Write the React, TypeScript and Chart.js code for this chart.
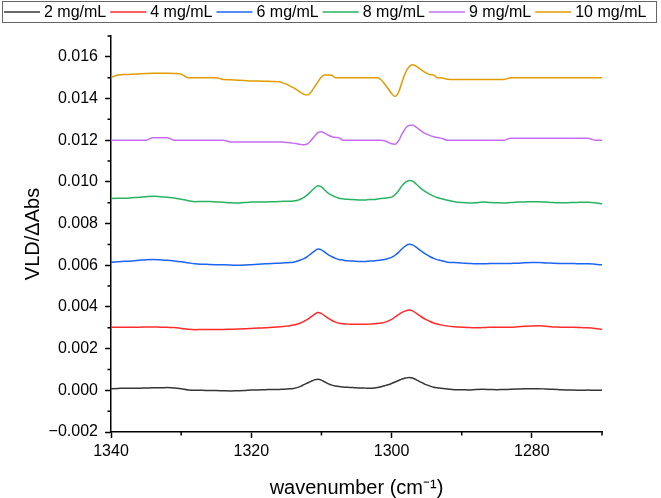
import React, { useEffect, useRef } from 'react';
import { Chart, registerables } from 'chart.js';

Chart.register(...registerables);

// wavenumber (cm-1), 1340 -> 1270 (half steps across the two bands)
const wavenumbers = [
  1340, 1339, 1338, 1337, 1336, 1335, 1334, 1333, 1332, 1331,
  1330, 1329, 1328, 1327, 1326, 1325, 1324, 1323, 1322, 1321,
  1320, 1319, 1318, 1317,
  1316, 1315.5, 1315, 1314.5, 1314, 1313.5, 1313, 1312.5, 1312, 1311.5,
  1311, 1310.5, 1310, 1309.5, 1309, 1308.5, 1308, 1307.5, 1307, 1306.5,
  1306, 1305.5, 1305, 1304.5, 1304, 1303.5, 1303, 1302.5, 1302, 1301.5,
  1301, 1300.5, 1300, 1299.5, 1299, 1298.5, 1298, 1297.5, 1297, 1296.5,
  1296, 1295.5, 1295, 1294.5, 1294, 1293.5, 1293,
  1292, 1291, 1290, 1289, 1288, 1287, 1286, 1285, 1284, 1283,
  1282, 1281, 1280, 1279, 1278, 1277, 1276, 1275, 1274, 1273,
  1272, 1271, 1270,
];

const seriesLabels = ['2 mg/mL', '4 mg/mL', '6 mg/mL', '8 mg/mL', '9 mg/mL', '10 mg/mL'];
const seriesColors = ['#353535', '#ff2b2b', '#1c64f2', '#27b362', '#c36ef2', '#e09c00'];

const vld2 = [
  0.00008, 0.00009, 0.00010, 0.00010, 0.00010, 0.00011, 0.00012, 0.00012, 0.00013, 0.00011,
  0.00007, 0.00002, 0.00000, 0.00000, -0.00001, -0.00001, -0.00002, -0.00003, -0.00002, -0.00001,
  0.00001, 0.00002, 0.00003, 0.00004,
  0.00004, 0.00005, 0.00006, 0.00007, 0.00009, 0.00013, 0.00019, 0.00027, 0.00035, 0.00043,
  0.00050, 0.00053, 0.00049, 0.00040, 0.00031, 0.00025, 0.00021, 0.00018, 0.00016, 0.00015,
  0.00014, 0.00013, 0.00012, 0.00011, 0.00011, 0.00010, 0.00010, 0.00011, 0.00013, 0.00017,
  0.00022, 0.00027, 0.00033, 0.00040, 0.00047, 0.00054, 0.00059, 0.00062, 0.00059, 0.00051,
  0.00042, 0.00034, 0.00026, 0.00020, 0.00015, 0.00012, 0.00010,
  0.00006, 0.00003, 0.00003, 0.00002, 0.00004, 0.00005, 0.00004, 0.00003, 0.00004, 0.00005,
  0.00006, 0.00007, 0.00007, 0.00008, 0.00006, 0.00005, 0.00003, 0.00001, 0.00001, 0.00000,
  0.00001, 0.00000, 0.00000,
];
const vld4 = [
  0.00302, 0.00302, 0.00303, 0.00303, 0.00303, 0.00304, 0.00304, 0.00303, 0.00302, 0.00301,
  0.00297, 0.00293, 0.00291, 0.00292, 0.00292, 0.00292, 0.00292, 0.00293, 0.00294, 0.00295,
  0.00297, 0.00299, 0.00300, 0.00303,
  0.00305, 0.00306, 0.00308, 0.00310, 0.00313, 0.00317, 0.00323, 0.00331, 0.00340, 0.00352,
  0.00364, 0.00373, 0.00368, 0.00357, 0.00345, 0.00335, 0.00327, 0.00322, 0.00319, 0.00318,
  0.00317, 0.00317, 0.00317, 0.00317, 0.00317, 0.00317, 0.00318, 0.00319, 0.00321, 0.00323,
  0.00326, 0.00332, 0.00340, 0.00352, 0.00363, 0.00374, 0.00381, 0.00385, 0.00381, 0.00370,
  0.00358, 0.00347, 0.00338, 0.00330, 0.00323, 0.00318, 0.00314,
  0.00308, 0.00305, 0.00303, 0.00301, 0.00300, 0.00301, 0.00302, 0.00302, 0.00302, 0.00303,
  0.00305, 0.00307, 0.00309, 0.00310, 0.00307, 0.00304, 0.00303, 0.00302, 0.00302, 0.00301,
  0.00300, 0.00297, 0.00292,
];
const vld6 = [
  0.00615, 0.00617, 0.00619, 0.00621, 0.00624, 0.00627, 0.00628, 0.00626, 0.00624, 0.00621,
  0.00617, 0.00612, 0.00607, 0.00605, 0.00604, 0.00603, 0.00602, 0.00601, 0.00600, 0.00601,
  0.00603, 0.00605, 0.00607, 0.00609,
  0.00610, 0.00611, 0.00612, 0.00613, 0.00615, 0.00619, 0.00625, 0.00632, 0.00642, 0.00655,
  0.00668, 0.00678, 0.00674, 0.00662, 0.00650, 0.00641, 0.00633, 0.00628, 0.00625, 0.00622,
  0.00621, 0.00620, 0.00619, 0.00618, 0.00618, 0.00619, 0.00620, 0.00621, 0.00623, 0.00625,
  0.00628, 0.00632, 0.00638, 0.00648, 0.00662, 0.00679, 0.00693, 0.00701, 0.00698, 0.00687,
  0.00674, 0.00662, 0.00651, 0.00641, 0.00633, 0.00627, 0.00623,
  0.00615, 0.00613, 0.00611, 0.00609, 0.00607, 0.00607, 0.00608, 0.00608, 0.00608, 0.00609,
  0.00610, 0.00612, 0.00613, 0.00613, 0.00611, 0.00610, 0.00609, 0.00608, 0.00608, 0.00607,
  0.00607, 0.00605, 0.00602,
];
const vld8 = [
  0.00920, 0.00921, 0.00922, 0.00924, 0.00926, 0.00929, 0.00931, 0.00929, 0.00926, 0.00923,
  0.00917, 0.00910, 0.00905, 0.00906, 0.00906, 0.00904, 0.00902, 0.00900, 0.00899, 0.00901,
  0.00903, 0.00904, 0.00904, 0.00905,
  0.00906, 0.00907, 0.00907, 0.00907, 0.00908, 0.00911, 0.00917, 0.00926, 0.00938, 0.00954,
  0.00970, 0.00981, 0.00976, 0.00960, 0.00945, 0.00935, 0.00928, 0.00922, 0.00919, 0.00917,
  0.00916, 0.00915, 0.00914, 0.00913, 0.00913, 0.00914, 0.00915, 0.00916, 0.00918, 0.00920,
  0.00922, 0.00924, 0.00927, 0.00938, 0.00958, 0.00982, 0.00999, 0.01007, 0.01004, 0.00990,
  0.00974, 0.00961, 0.00950, 0.00940, 0.00932, 0.00925, 0.00920,
  0.00912, 0.00905, 0.00901, 0.00899, 0.00900, 0.00903, 0.00901, 0.00900, 0.00899, 0.00901,
  0.00903, 0.00904, 0.00905, 0.00905, 0.00903, 0.00901, 0.00900, 0.00900, 0.00901, 0.00902,
  0.00902, 0.00900, 0.00894,
];
const vld9 = [
  0.01200, 0.01200, 0.01200, 0.01200, 0.01200, 0.01200, 0.01212, 0.01212, 0.01212, 0.01200,
  0.01200, 0.01200, 0.01200, 0.01200, 0.01200, 0.01200, 0.01200, 0.01192, 0.01192, 0.01192,
  0.01192, 0.01192, 0.01192, 0.01192,
  0.01192, 0.01191, 0.01189, 0.01188, 0.01186, 0.01183, 0.01180, 0.01178, 0.01182, 0.01198,
  0.01218, 0.01236, 0.01241, 0.01233, 0.01224, 0.01217, 0.01213, 0.01212, 0.01201, 0.01200,
  0.01200, 0.01200, 0.01200, 0.01200, 0.01200, 0.01200, 0.01200, 0.01200, 0.01200, 0.01200,
  0.01197, 0.01190, 0.01183, 0.01181, 0.01198, 0.01230, 0.01258, 0.01271, 0.01273, 0.01263,
  0.01250, 0.01238, 0.01229, 0.01222, 0.01217, 0.01213, 0.01210,
  0.01200, 0.01200, 0.01200, 0.01200, 0.01200, 0.01200, 0.01200, 0.01200, 0.01200, 0.01210,
  0.01210, 0.01210, 0.01210, 0.01210, 0.01210, 0.01210, 0.01210, 0.01210, 0.01210, 0.01210,
  0.01210, 0.01200, 0.01200,
];
const vld10 = [
  0.01500, 0.01513, 0.01515, 0.01516, 0.01518, 0.01520, 0.01521, 0.01521, 0.01521, 0.01520,
  0.01517, 0.01500, 0.01500, 0.01500, 0.01500, 0.01500, 0.01491, 0.01490, 0.01488, 0.01486,
  0.01484, 0.01484, 0.01483, 0.01482,
  0.01480, 0.01475, 0.01469, 0.01461, 0.01452, 0.01442, 0.01430, 0.01420, 0.01417, 0.01430,
  0.01455, 0.01480, 0.01503, 0.01513, 0.01513, 0.01512, 0.01500, 0.01500, 0.01500, 0.01500,
  0.01500, 0.01500, 0.01500, 0.01500, 0.01500, 0.01500, 0.01500, 0.01500, 0.01500, 0.01490,
  0.01470, 0.01448, 0.01424, 0.01410, 0.01430, 0.01480, 0.01525, 0.01552, 0.01562, 0.01555,
  0.01543, 0.01532, 0.01522, 0.01514, 0.01513, 0.01500, 0.01500,
  0.01492, 0.01491, 0.01491, 0.01491, 0.01491, 0.01491, 0.01491, 0.01491, 0.01491, 0.01500,
  0.01500, 0.01500, 0.01500, 0.01500, 0.01500, 0.01500, 0.01500, 0.01500, 0.01500, 0.01500,
  0.01500, 0.01500, 0.01500,
];

const seriesValues = [vld2, vld4, vld6, vld8, vld9, vld10];

const xMajorTicks = [1340, 1320, 1300, 1280];
const xMinorTicks = [1330, 1310, 1290, 1270];
const yMajorTicks = [-0.002, 0.0, 0.002, 0.004, 0.006, 0.008, 0.01, 0.012, 0.014, 0.016];
const yMinorTicks = [-0.001, 0.001, 0.003, 0.005, 0.007, 0.009, 0.011, 0.013, 0.015, 0.017];

const FONT = '"Liberation Sans", Arial, Helvetica, sans-serif';

const minorTickPlugin = {
  id: 'minorTicks',
  afterDraw(chart: any) {
    const ctx = chart.ctx;
    const xs = chart.scales.x;
    const ys = chart.scales.y;
    const area = chart.chartArea;
    ctx.save();
    ctx.strokeStyle = '#000';
    ctx.lineWidth = 1.5;
    ctx.beginPath();
    xMinorTicks.forEach((v) => {
      const p = xs.getPixelForValue(v);
      ctx.moveTo(p, area.bottom);
      ctx.lineTo(p, area.bottom + 3.5);
    });
    yMinorTicks.forEach((v) => {
      const p = ys.getPixelForValue(v);
      ctx.moveTo(area.left, p);
      ctx.lineTo(area.left - 3.5, p);
    });
    ctx.stroke();
    ctx.restore();
  },
};

const boxLegendPlugin = {
  id: 'boxLegend',
  afterDraw(chart: any) {
    const ctx = chart.ctx;
    ctx.save();
    ctx.strokeStyle = '#666';
    ctx.lineWidth = 1;
    ctx.strokeRect(2.5, 1.5, 654, 21);
    ctx.font = '16px ' + FONT;
    ctx.textBaseline = 'middle';
    let x = 4;
    chart.data.datasets.forEach((ds: any) => {
      ctx.strokeStyle = ds.borderColor;
      ctx.lineWidth = 1.5;
      ctx.beginPath();
      ctx.moveTo(x, 12);
      ctx.lineTo(x + 36, 12);
      ctx.stroke();
      ctx.fillStyle = '#000';
      ctx.fillText(ds.label, x + 40, 12.5);
      x += 36 + 4 + ctx.measureText(ds.label).width + 4;
    });
    ctx.restore();
  },
};

function formatY(v: number) {
  const s = Math.abs(v).toFixed(3);
  return v < -1e-9 ? '\u2212' + s : s;
}

export default function App() {
  const canvasRef = useRef<HTMLCanvasElement | null>(null);

  useEffect(() => {
    document.body.style.margin = '0';
    const canvas = canvasRef.current;
    if (!canvas) return;
    const datasets = seriesLabels.map((label, i) => ({
      label,
      data: wavenumbers.map((w, j) => ({ x: w, y: seriesValues[i][j] })),
      borderColor: seriesColors[i],
      backgroundColor: seriesColors[i],
      borderWidth: 1.5,
      pointRadius: 0,
      cubicInterpolationMode: 'monotone' as const,
      fill: false,
    }));

    const chart = new Chart(canvas, {
      type: 'line',
      data: { datasets },
      options: {
        animation: false,
        responsive: false,
        maintainAspectRatio: false,
        layout: { padding: { left: 0, right: 59, top: 36, bottom: 0 } },
        plugins: {
          legend: { display: false },
          tooltip: { enabled: false },
        },
        scales: {
          x: {
            type: 'linear',
            reverse: true,
            min: 1270,
            max: 1340,
            afterBuildTicks: (scale: any) => {
              scale.ticks = xMajorTicks.map((v) => ({ value: v }));
            },
            afterFit: (scale: any) => {
              scale.height = 66;
            },
            border: { display: true, color: '#000', width: 1.5 },
            grid: {
              drawOnChartArea: false,
              drawTicks: true,
              tickLength: 6,
              tickWidth: 1.5,
              tickColor: '#000',
              color: '#000',
            },
            ticks: {
              color: '#000',
              font: { family: FONT, size: 16 },
              padding: 4,
              maxRotation: 0,
              autoSkip: false,
              callback: (v: any) => String(v),
            },
            title: {
              display: true,
              text: 'wavenumber (cm\u207B\u00B9)',
              color: '#000',
              font: { family: FONT, size: 20 },
              padding: { top: 0, bottom: -2 },
            },
          },
          y: {
            type: 'linear',
            min: -0.002,
            max: 0.017,
            afterBuildTicks: (scale: any) => {
              scale.ticks = yMajorTicks.map((v) => ({ value: v }));
            },
            afterFit: (scale: any) => {
              scale.width = 111;
            },
            border: { display: true, color: '#000', width: 1.5 },
            grid: {
              drawOnChartArea: false,
              drawTicks: true,
              tickLength: 6,
              tickWidth: 1.5,
              tickColor: '#000',
              color: '#000',
            },
            ticks: {
              color: '#000',
              font: { family: FONT, size: 16 },
              padding: 7,
              autoSkip: false,
              callback: (v: any) => formatY(Number(v)),
            },
            title: {
              display: true,
              text: 'VLD/\u0394Abs',
              color: '#000',
              font: { family: FONT, size: 20 },
              padding: { top: 21, bottom: 0 },
            },
          },
        },
      },
      plugins: [minorTickPlugin, boxLegendPlugin],
    } as any);

    return () => {
      chart.destroy();
    };
  }, []);

  return (
    <div style={{ width: 661, height: 498 }}>
      <canvas ref={canvasRef} width={661} height={498} style={{ display: 'block' }} />
    </div>
  );
}
